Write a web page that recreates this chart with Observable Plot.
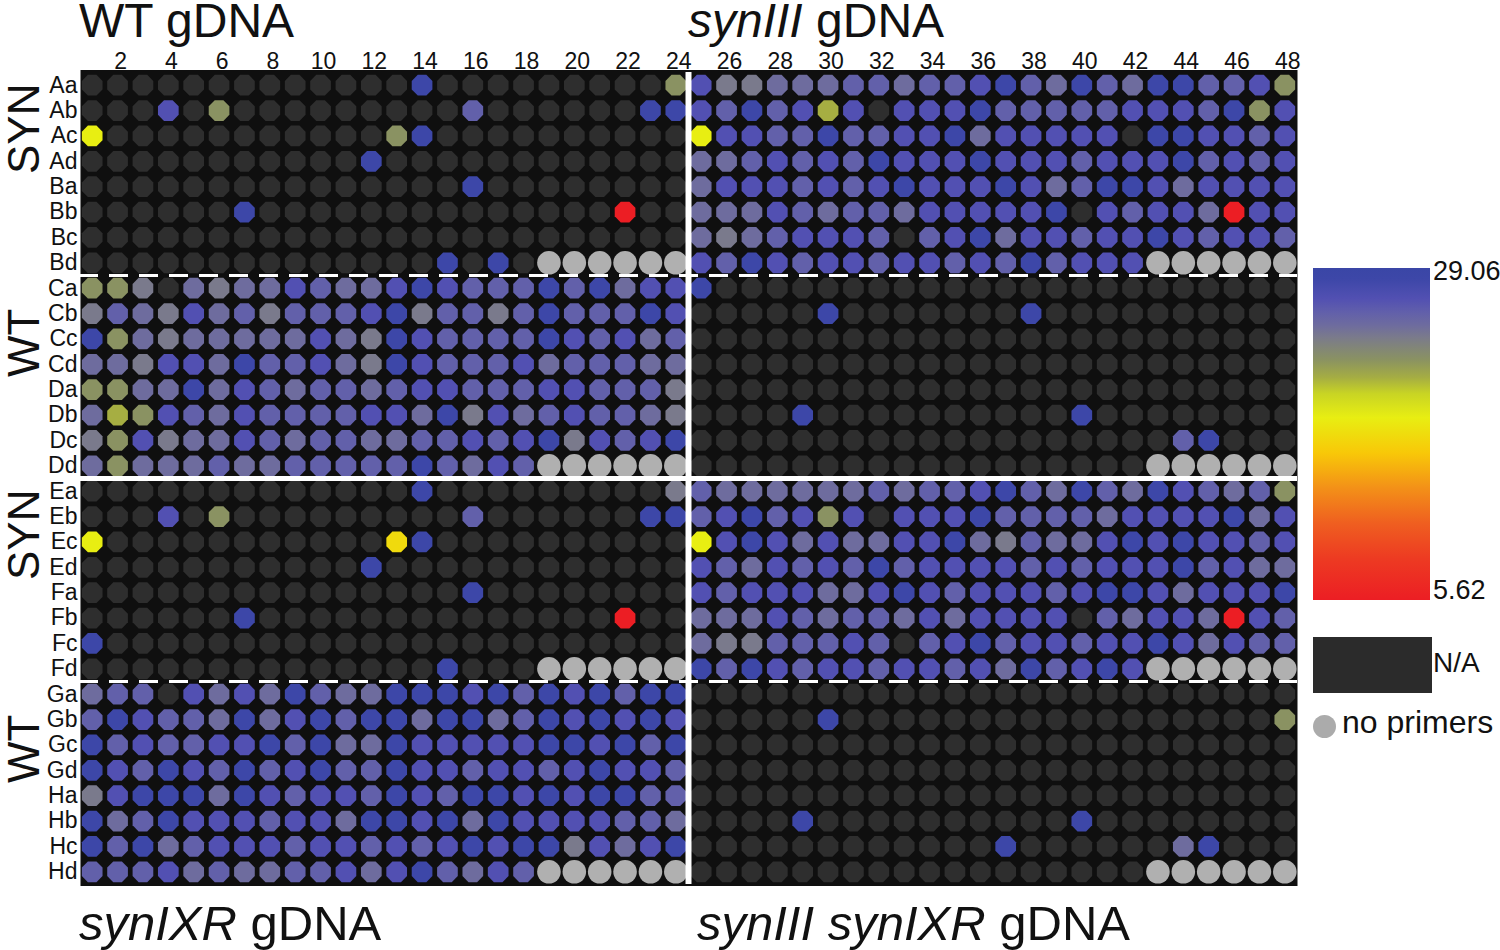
<!DOCTYPE html>
<html>
<head>
<meta charset="utf-8">
<script src="https://cdn.jsdelivr.net/npm/d3@7"></script>
<script src="https://cdn.jsdelivr.net/npm/@observablehq/plot@0.6"></script>
<style>
  body { margin: 0; background: #fff; font-family: "Liberation Sans", Arial, sans-serif; color: #111; }
  #wrap { position: relative; width: 1500px; height: 950px; overflow: hidden; }
  #chart { position: absolute; left: 0; top: 0; }
  .title { position: absolute; font-size: 48px; line-height: 1; white-space: nowrap; }
  .lg { position: absolute; font-size: 27px; line-height: 1; white-space: nowrap; }
</style>
</head>
<body>
<div id="wrap">
  <div id="chart"></div>
  <div class="title" style="left:79px;top:-3px">WT gDNA</div>
  <div class="title" style="left:688px;top:-3px"><i>synIII</i> gDNA</div>
  <div class="title" style="left:79px;top:899px;font-size:49px"><i>synIXR</i> gDNA</div>
  <div class="title" style="left:697px;top:899px;font-size:49px"><i>synIII synIXR</i> gDNA</div>
  <div id="ramp" style="position:absolute;left:1313px;top:268px;width:117px;height:332px"></div>
  <div class="lg" style="left:1433px;top:258px">29.06</div>
  <div class="lg" style="left:1433px;top:577px">5.62</div>
  <div id="nabox" style="position:absolute;left:1313px;top:637px;width:119px;height:56px;background:#2b2b2b"></div>
  <div class="lg" style="left:1433px;top:649px;font-size:28px">N/A</div>
  <div style="position:absolute;left:1313px;top:715px;width:23px;height:23px;border-radius:50%;background:#ababab"></div>
  <div class="lg" style="left:1342px;top:706px;font-size:32px">no primers</div>
</div>
<script>
// ---- data ----
const rowLabels = ["Aa","Ab","Ac","Ad","Ba","Bb","Bc","Bd","Ca","Cb","Cc","Cd","Da","Db","Dc","Dd",
                   "Ea","Eb","Ec","Ed","Fa","Fb","Fc","Fd","Ga","Gb","Gc","Gd","Ha","Hb","Hc","Hd"];
const colTicks = [2,4,6,8,10,12,14,16,18,20,22,24,26,28,30,32,34,36,38,40,42,44,46,48];
const groupLabels = [
  {label: "SYN", from: "Aa", to: "Bd"},
  {label: "WT",  from: "Ca", to: "Dd"},
  {label: "SYN", from: "Ea", to: "Fd"},
  {label: "WT",  from: "Ga", to: "Hd"}
];
// cell codes -> Ct value read from the colour ramp; "." = N/A, "x" = no primers
const levelValues = {B: 28.3, b: 26.9, p: 25.9, l: 25.0, g: 24.2, o: 22.6, Y: 21.3, y: 18.5, Z: 17.2, r: 5.62};
const ctMin = 5.62, ctMax = 29.06;

// WT gDNA: rows Aa..Dd, columns 1..24
const wtGDNA = [
  ".............B.........o",
  "...b.o.........p......BB",
  "y...........oB..........",
  "...........B............",
  "...............B........",
  "......B..............r..",
  "........................",
  "..............B.B.xxxxxx",
  "oog.lgllbpllbBbpppBpBlbb",
  "gplgblpgpppbBgppgpBpppBb",
  "BolglllllblgBbppppBbpblp",
  "llgbblBppblgBbpppblpppll",
  "oollBlbplpplpbbpppbbpppg",
  "lYobplbppppbblBgblpbpplg",
  "gobgllbplppllppbpbBgbpbB",
  "lolllpllpppppBplbpxxxxxx"
];
// synIII gDNA: rows Aa..Dd, columns 25..48
const synIIIgDNA = [
  "bgglllpplppbBplBplBBppbo",
  "bpBpbYb.bbbBpppppbbbpBob",
  "ybbppBppbbBlbbbbb.BBbbpb",
  "llpbpbpBbbbBbbbpbbbBpbpb",
  "lbbbpbpbBbbbBblpBBblbbbb",
  "lllbplpplbbbbbB.bpbblrbb",
  "lglpbbbp.pbBlbbpbbBbpbbp",
  "bpBbpbbpbbpbpBpbbbxxxxxx",
  "B.......................",
  ".....B.......B..........",
  "........................",
  "........................",
  "........................",
  "....B..........B........",
  "...................pB...",
  "..................xxxxxx"
];
// synIXR gDNA: rows Ea..Hd, columns 1..24
const synIXRgDNA = [
  ".............B.........g",
  "...b.o.........p......BB",
  "y...........ZB..........",
  "...........B............",
  "...............B........",
  "......B..............r..",
  "B.......................",
  "..............B...xxxxxx",
  "lpp.blblBpllBBBbBpBbBpBB",
  "pBbpplBlbBpBBlBBlpBbBbBb",
  "BpbppbbBpBllBbbbbbBBbBpB",
  "BbpBbpBpbBppBbbpbbpbBbbp",
  "gbBBBlBbpbbpBbpBBbBbBBpp",
  "BlpBbbbpbblBBbBlBbbbbppl",
  "BpBlpbbbpbbpbpbBbBBgblbB",
  "pppblpllppblbBplbpxxxxxx"
];
// synIII synIXR gDNA: rows Ea..Hd, columns 25..48
const synIIIsynIXRgDNA = [
  "pllllllplppbBplBplBbplpo",
  "pbBpbob.bbbBpppplbbbbBlb",
  "ybBblbllbbBlgpllbBbBbbpb",
  "bplbpbpBpbbbbpbpbbbBpbll",
  "bpbbbllbBbpbbbpbBBblbbbB",
  "lllbplpplblbbbb.plbblrbp",
  "lggpppbp.pbBpbbpbbBblbpp",
  "BpBbpbbpbbpblBpbBbxxxxxx",
  "........................",
  ".....B.................o",
  "........................",
  "........................",
  "........................",
  "....B..........B........",
  "............B......lB...",
  "..................xxxxxx"
];

// colour ramp (red -> yellow -> grey -> blue)
const colorDomain = [5.62, 8.5, 11, 13.5, 16, 18.5, 20.2, 21.3, 22.6, 24.2, 25.0, 25.9, 26.9, 28.3, 29.06];
const colorRange = ["#ec1e24","#ed3a22","#ef5e20","#f39018","#f8c808","#e8ee12","#c8d424","#a6ae42",
                    "#8a9262","#7a7a8c","#6e6c9e","#6260aa","#5250b2","#3d47a8","#3a46a6"];

// ---- build cells ----
const panels = [
  {rows: wtGDNA, rowStart: 0, colStart: 1},
  {rows: synIIIgDNA, rowStart: 0, colStart: 25},
  {rows: synIXRgDNA, rowStart: 16, colStart: 1},
  {rows: synIIIsynIXRgDNA, rowStart: 16, colStart: 25}
];
const cells = [];
for (const p of panels) {
  p.rows.forEach((s, i) => {
    if (s.length !== 24) throw new Error("bad row length " + s + " " + s.length);
    [...s].forEach((c, j) => cells.push({
      row: p.rowStart + i, col: p.colStart + j, code: c,
      value: c in levelValues ? levelValues[c] : null
    }));
  });
}
const groups = groupLabels.map(g => ({label: g.label, center: (rowLabels.indexOf(g.from) + rowLabels.indexOf(g.to)) / 2}));

const octagon = {
  draw(ctx, size) {
    const R = Math.sqrt(size / Math.PI);
    for (let k = 0; k < 8; k++) {
      const a = Math.PI / 8 + k * Math.PI / 4;
      const x = R * Math.cos(a), y = R * Math.sin(a);
      if (k === 0) ctx.moveTo(x, y); else ctx.lineTo(x, y);
    }
    ctx.closePath();
  }
};

const chart = Plot.plot({
  width: 1500, height: 950,
  marginLeft: 79, marginRight: 203, marginTop: 72, marginBottom: 66,
  style: {background: "white", fontFamily: "'Liberation Sans', Arial, sans-serif", color: "#111", overflow: "visible"},
  x: {domain: [0.5, 48.5]},
  y: {domain: [-0.5, 31.5], reverse: true},
  color: {type: "linear", domain: colorDomain, range: colorRange, interpolate: "rgb"},
  marks: [
    Plot.frame({fill: "#0f0f0f", stroke: null, insetLeft: 1, insetRight: 0, insetTop: -2.5, insetBottom: -1.5}),
    Plot.dot(cells.filter(d => d.code === "."), {x: "col", y: "row", r: 11.2, symbol: octagon, fill: "#2e2e2e"}),
    Plot.dot(cells.filter(d => d.value != null), {x: "col", y: "row", r: 11.2, symbol: octagon, fill: "value"}),
    Plot.dot(cells.filter(d => d.code === "x"), {x: "col", y: "row", r: 11.8, fill: "#b0b0b0"}),
    Plot.ruleY([7.5, 23.5], {stroke: "white", strokeWidth: 3, strokeDasharray: "19,11"}),
    Plot.ruleY([15.5], {stroke: "white", strokeWidth: 5}),
    Plot.ruleX([24.5], {stroke: "white", strokeWidth: 6}),
    Plot.axisX(colTicks, {anchor: "top", tickSize: 0, tickPadding: 4, fontSize: 23, dx: 3, label: null}),
    Plot.axisY(d3.range(32), {anchor: "left", tickSize: 0, tickPadding: 2, fontSize: 23, tickFormat: i => rowLabels[i], label: null}),
    Plot.text(groups, {y: "center", text: "label", frameAnchor: "left", dx: -55, rotate: -90, fontSize: 44})
  ]
});
document.getElementById("chart").appendChild(chart);

// vertical legend ramp from the chart's own colour scale
const cs = chart.scale("color");
const stops = cs.domain.map((v, i) => `${cs.range[i]} ${((v - ctMin) / (ctMax - ctMin) * 100).toFixed(2)}%`);
document.getElementById("ramp").style.background = `linear-gradient(to top, ${stops.join(", ")})`;
</script>
</body>
</html>
